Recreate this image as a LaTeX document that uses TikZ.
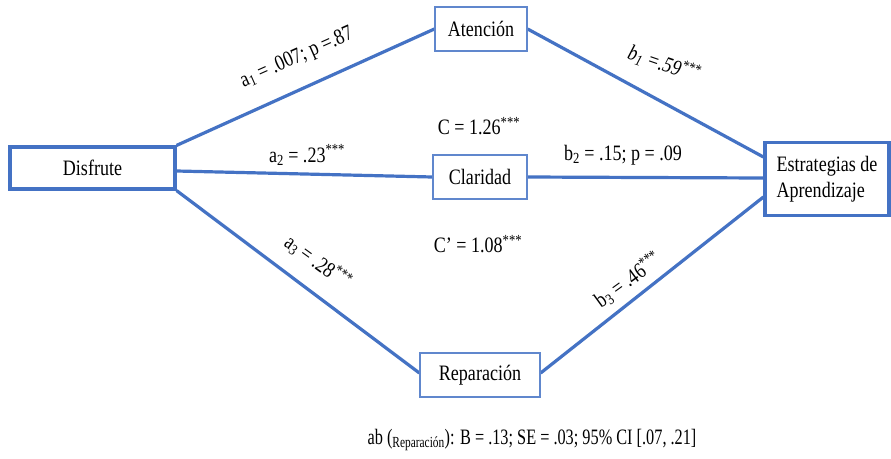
\documentclass[tikz,border=0pt]{standalone}
\usepackage{fontspec}
\setmainfont{Liberation Serif}
\usepackage{graphicx}
\definecolor{boxblue}{HTML}{4472C4}
\newcommand{\nt}[1]{\scalebox{0.82}[1]{#1}}
\pgfdeclarelayer{bg}
\pgfsetlayers{bg,main}
\begin{document}
\begin{tikzpicture}[x=1pt,y=1pt,
  font=\fontsize{22}{26}\selectfont,
  thickbox/.style={draw=boxblue, line width=3.2pt, fill=white, inner sep=0pt},
  thinbox/.style={draw=boxblue!85, line width=1.3pt, fill=white, inner sep=0pt},
  conn/.style={draw=boxblue, line width=3.2pt},
  lbl/.style={inner sep=0pt}]
\useasboundingbox (0,0) rectangle (891,-458);
\node[thickbox, minimum width=165pt, minimum height=42pt] (dis) at (92.5,-168) {\nt{Disfrute}};
\node[thinbox, minimum width=92pt, minimum height=44pt] (ate) at (481,-29) {\nt{Atención}};
\node[thinbox, minimum width=94pt, minimum height=44pt] (cla) at (480,-177) {\nt{Claridad}};
\node[thinbox, minimum width=120pt, minimum height=44pt] (rep) at (480,-375) {\nt{Reparación}};
\node[thickbox, minimum width=124pt, minimum height=73pt, align=left] (est) at (827,-179) {\nt{Estrategias de}\\\nt{Aprendizaje}};
\begin{pgfonlayer}{bg}
\fill[white] (0,0) rectangle (891,-458);
\draw[conn] (dis.north east) -- (ate.west);
\draw[conn] ([yshift=-3pt]dis.east) -- (cla.west);
\draw[conn] (dis.south east) -- ([yshift=2pt]rep.west);
\draw[conn] (ate.east) -- ([yshift=22pt]est.west);
\draw[conn] (cla.east) -- ([yshift=1pt]est.west);
\draw[conn] ([yshift=2pt]rep.east) -- ([yshift=-18pt]est.west);
\end{pgfonlayer}
% labels
\node[lbl, rotate=24] (la1) at (297,-58) {\nt{a\textsubscript{1} = .007; p =.87}};
\node[lbl] (la2) at (307,-155) {\nt{a\textsubscript{2} = .23\textsuperscript{***}}};
\node[lbl, rotate=-36] (la3) at (318,-262) {\nt{a\textsubscript{3} = .28\textsuperscript{***}}};
\node[lbl, rotate=-19] (lb1) at (664,-64) {\nt{\itshape b\textsubscript{1} =.59\textsuperscript{***}}};
\node[lbl] (lb2) at (623,-155) {\nt{b\textsubscript{2} = .15; p = .09}};
\node[lbl, rotate=36] (lb3) at (628,-280) {\nt{b\textsubscript{3} = .46\textsuperscript{***}}};
\node[lbl] (lc) at (479,-126) {\nt{C = 1.26\textsuperscript{***}}};
\node[lbl] (lcp) at (478,-244) {\nt{C’ = 1.08\textsuperscript{***}}};
\node[lbl] (lab) at (532,-440) {\scalebox{0.74}[1]{ab (\textsubscript{Reparación}): B = .13; SE = .03; 95\% CI [.07, .21]}};
\end{tikzpicture}
\end{document}
